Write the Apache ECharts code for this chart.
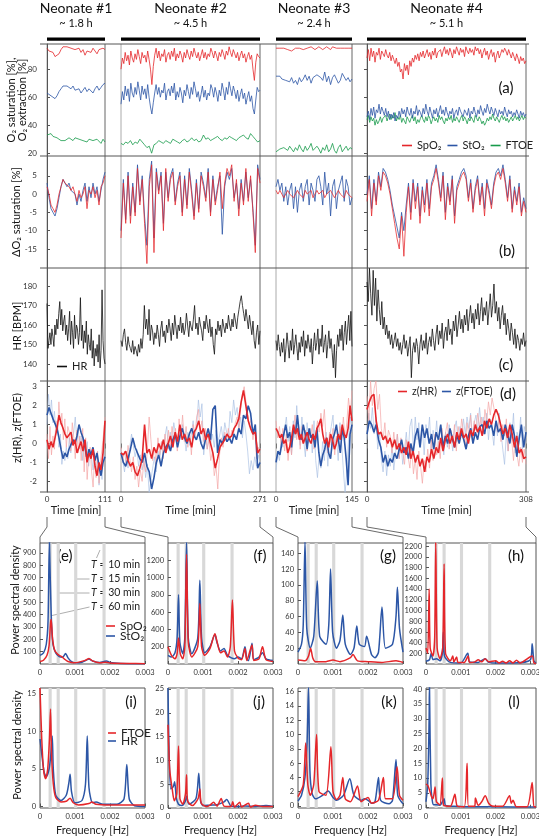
<!DOCTYPE html>
<html><head><meta charset="utf-8">
<script src="https://cdn.jsdelivr.net/npm/echarts@6/dist/echarts.min.js"></script>
<style>html,body{margin:0;padding:0;background:#fff}#c{width:539px;height:838px}</style>
</head><body><div id="c"></div>
<script>
// ---------------- DATA ----------------
const neonates = ['Neonate #1','Neonate #2','Neonate #3','Neonate #4'];
const durLabels = ['~ 1.8 h','~ 4.5 h','~ 2.4 h','~ 5.1 h'];
const durations = [111, 271, 145, 308];

// (a) O2 saturation / extraction [%]
const spo2 = [
 [95,93,94,92,89,88,91,94,96,97,96,96,95,95,94,93,95,92,94,90,93,94,92,95,93,91,94,93,95,94],
 [80,88,84,92,86,90,83,93,88,85,91,87,94,89,84,92,88,90,85,93,87,80,69,82,90,95,88,93,86,91,89,94,85,90,92,87,93,89,95,86,91,88,93,90,85,92,88,94,90,87,93,89,95,91,88,92,86,90,94,88,92,87,91,89,95,92,88,93,90,86,92,89,94,91,87,93,90,96,92,89,94,91,88,92,86,90,93,88,91,85,89,92,87,90,80,72,85,91,89,88],
 [95,94,95,94,95,95,94,95,93,94,95,94,95,96,94,95,95,94,96,95,94,95,96,95,94,95,96,95,94,96,95,95,94,95,96,95,94,95,94,95],
 [88,94,86,95,89,93,85,92,90,95,87,93,91,89,94,90,88,92,86,90,87,84,88,82,85,78,80,73,84,79,83,76,86,82,88,85,90,87,91,86,92,89,93,88,91,94,89,92,87,93,90,95,88,92,91,94,89,93,96,91,94,90,95,92,88,94,91,96,93,90,95,92,94,89,96,93,91,95,92,94,90,96,93,95,91,94,88,92,95,90,93,87,91,94,89,92,85,90,93,88,91,94,92,95,93,90,94,91,88,92,89,86,91,88,84,89,86,88,84,86]
];
const sto2 = [
 [63,62,61,60,59,61,64,66,68,69,68,67,66,68,65,64,66,63,65,67,64,66,65,63,66,68,65,67,69,70],
 [55,64,58,68,61,66,57,70,63,60,67,62,71,65,58,68,62,66,59,69,60,53,48,56,63,69,62,67,60,65,63,70,58,64,66,61,68,63,70,58,64,60,67,63,56,65,61,69,64,59,67,62,71,66,60,64,57,62,68,60,65,58,63,61,69,66,60,67,63,57,65,61,70,65,58,67,62,71,66,61,68,64,59,65,57,62,66,59,63,55,60,64,57,61,52,48,58,67,64,65],
 [75,74,75,73,74,72,73,71,74,70,72,69,74,71,73,76,72,75,70,74,73,76,77,74,72,78,71,75,69,74,76,73,70,72,77,78,72,74,71,73],
 [46,50,44,52,47,53,45,51,49,55,48,53,50,47,52,46,50,44,48,45,49,43,47,45,50,46,52,48,51,46,53,49,47,52,45,50,48,54,47,51,49,46,52,48,55,50,47,53,49,45,51,48,52,46,50,54,48,51,47,53,49,46,50,48,52,45,49,51,47,53,50,48,46,51,49,47,52,45,50,48,53,49,46,51,48,54,50,47,52,49,55,51,48,53,50,47,52,49,46,51,48,50,47,53,49,46,51,48,50,46,49,47,51,48,45,50,47,49,46,48]
];
const ftoe = [
 [33,32,34,32,33,31,30,29,30,29,30,31,30,29,31,32,30,31,29,30,28,30,31,29,28,30,29,27,30,28],
 [27,26,28,27,29,26,28,27,30,28,26,24,25,20,26,27,29,28,27,29,28,27,30,29,28,27,29,30,28,29,31,29,30,28,29,33,30,31,29,30,31,32,30,29,31,30,32,31,30,29,31,32,33,31,30,34,32,30,28,29],
 [21,22,23,22,24,23,22,25,23,21,24,22,26,23,21,25,22,24,27,22,21,25,23,20,24,22,26,21,23,27,22,20,24,26,21,23,25,22,24,23],
 [44,47,42,46,43,45,40,44,41,43,46,42,45,44,47,43,46,48,44,47,45,49,43,46,44,47,42,45,43,41,46,44,42,45,47,43,46,41,44,42,45,47,44,42,46,43,47,45,41,44,46,43,45,42,47,44,46,43,41,45,43,46,44,47,42,45,43,46,44,42,45,47,43,46,44,41,45,43,46,44,42,47,45,43,46,44,41,43,40,42,45,43,46,44,48,45,43,46,44,42,45,47,44,46,43,45,42,44,46,43,45,47,44,46,43,45,47,44,46,45]
];
// (b) delta O2 saturation [%]
const dSpo2 = [
 [2,0,-3,-4,-5,-3,0,2,4,3,3,2,1,2,0,-2,1,-1,0,2,-4,1,0,2,-1,1,-3,2,3,5],
 [-12,3,-8,5,-8,2,-6,7,-3,4,-8,-19,2,8,-16,6,0,5,-10,7,-2,4,6,-3,2,5,-6,4,-4,6,0,-7,3,-5,5,2,-2,6,-6,4,-3,1,6,-4,3,7,5,8,-2,4,-6,3,-3,7,-2,5,-5,-16,7,3],
 [1,0,1,0,-1,0,1,0,0,-1,0,1,0,0,-1,1,0,0,1,-1,0,1,0,0,1,-1,0,0,1,0,-1,0,1,0,0,-1,1,0,0,-1],
 [-2,4,-6,3,-3,5,1,6,5,3,0,-4,-8,-12,-15,-6,-17,-5,2,-7,3,-4,2,-8,1,-5,3,-6,2,4,7,3,-2,5,-7,2,-3,4,-8,1,3,5,6,4,-2,3,-5,1,4,-3,2,-6,3,0,-4,2,5,6,4,7,3,-2,4,-5,1,-3,2,-6,-2,-5]
];
const dSto2 = [
 [3,-1,-4,-5,-6,-4,-1,2,4,4,2,3,1,1,0,-3,0,-2,1,3,-2,2,-1,3,0,2,-2,1,4,6],
 [-10,4,-7,6,-6,3,-5,8,-2,5,-6,-14,4,9,-12,7,1,6,-8,6,-1,5,7,-2,3,6,-5,5,-3,7,1,-6,4,-4,6,3,-1,7,-5,5,-2,2,5,-11,2,6,4,7,-1,3,-4,4,-2,6,-1,4,-4,-14,8,4],
 [2,4,1,3,-2,2,-3,1,3,-4,2,-5,1,3,-2,2,4,-3,3,1,-2,4,5,2,-3,6,0,3,-6,2,4,-4,1,3,5,-2,4,2,-3,-1],
 [0,5,-4,4,-2,6,2,7,6,4,1,-3,-6,-9,-12,-5,-10,-3,3,-5,4,-2,3,-6,2,-3,4,-4,3,5,8,4,-1,6,-5,3,-2,5,-6,2,4,6,7,5,-1,4,-4,2,5,-2,3,-4,4,1,-3,3,6,7,5,8,4,-1,5,-4,2,-2,3,-5,-1,-4]
];
// (c) heart rate [BPM]
const hr = [
 [171,148,152,156,150,158,154,149,160,155,163,158,166,172,160,168,157,162,165,155,160,152,158,167,150,162,156,148,165,153,160,158,150,156,174,152,160,148,157,151,162,145,155,150,147,158,143,152,139,148,144,150,141,155,138,147,178,152,143,140],
 [152,149,155,158,151,147,154,150,148,146,152,145,149,147,144,150,146,153,148,155,170,158,163,155,168,152,160,157,150,156,153,160,155,149,158,162,154,157,151,160,156,163,158,152,161,155,165,159,153,160,157,164,156,161,155,158,166,160,154,162,159,157,163,170,158,161,155,164,160,157,152,162,158,165,160,156,163,154,159,150,145,158,155,162,157,160,154,163,159,156,161,158,165,160,157,163,159,166,162,158,164,168,172,175,170,166,162,168,163,158,165,160,155,162,152,148,156,160,150,157],
 [152,147,155,149,144,151,146,153,141,148,156,150,143,152,147,158,145,150,155,148,142,151,146,154,149,157,144,152,148,155,150,146,153,140,149,156,147,151,158,145,153,149,160,146,151,155,143,150,157,148,153,146,138,150,133,147,155,149,158,152,160,147,156,162,150,158,165,152,167,149],
 [182,172,189,176,165,188,170,184,162,178,168,160,172,158,164,155,160,153,157,150,155,148,152,156,149,153,147,151,145,150,155,148,152,144,149,154,133,147,151,146,153,149,140,150,155,147,152,148,156,145,151,154,149,158,152,147,155,160,150,157,153,161,148,156,159,152,163,155,158,150,162,157,165,154,160,167,158,163,156,165,160,168,157,164,170,161,166,158,168,163,171,160,167,174,162,169,165,172,160,168,176,164,170,181,166,172,162,169,158,165,170,160,166,155,163,158,152,161,156,150,158,148,155,152,147,153,150,156,149,152]
];
// (d) z-scores: smoothed and raw
const zHr = [
 [0.2,-0.3,0.1,-0.2,0.3,0.8,1.5,1.1,0.8,0.5,0.3,0.2,0.6,-0.1,0.2,-0.5,-0.2,0.1,-0.4,0.2,-1.0,-0.5,-0.8,-0.3,-1.2,-1.7,-1.0,-1.4,-0.5,1.2],
 [-0.5,-0.6,-0.4,-0.9,-1.2,-1.0,-1.5,-1.7,-1.3,-0.8,1.0,-0.5,-0.3,-0.8,-0.2,-0.5,0.0,-0.3,0.2,-0.5,0.0,0.4,-0.2,0.6,0.1,1.0,0.2,0.5,0.1,0.3,-0.2,0.6,0.8,1.2,0.5,0.8,0.2,0.5,0.0,-0.5,-1.3,-0.8,-0.2,0.0,0.2,0.5,0.3,0.4,0.8,1.0,1.3,2.2,2.8,2.0,1.2,0.8,0.5,0.6,-0.5,-0.3],
 [0.8,0.6,0.3,0.5,0.0,0.2,-0.5,-0.2,0.3,1.0,0.5,0.8,0.2,0.5,0.0,0.3,0.6,0.2,0.0,0.5,0.2,0.8,1.0,1.3,0.5,0.0,0.3,-0.2,0.5,0.2,-0.3,0.0,0.5,0.2,1.0,0.5,0.3,0.8,2.0,1.2],
 [1.8,2.2,2.5,2.6,1.2,0.5,0.6,0.2,0.4,0.0,0.3,-0.2,0.2,-0.3,0.0,-0.5,-0.2,-0.6,0.1,-0.8,-0.4,-1.0,-0.6,-1.2,-0.8,-1.5,-0.7,-1.0,-0.3,-0.8,-0.2,-0.5,0.3,-0.4,0.2,0.5,0.0,0.4,-0.2,0.6,0.2,0.8,0.3,0.5,0.0,0.7,0.4,1.0,0.6,0.9,0.4,1.2,0.8,1.3,1.0,1.5,1.8,1.5,1.0,0.5,0.8,0.3,1.0,0.5,-0.2,0.4,-0.5,-0.3,-0.8,-0.7]
];
const zFtoe = [
 [1.5,1.9,1.6,1.3,1.2,0.8,0.3,-0.3,-0.8,-0.5,-0.7,-0.3,-0.4,0.2,0.0,0.4,1.0,0.6,0.3,-0.2,-0.8,-0.3,-0.6,-0.2,-0.9,-0.5,-1.2,-1.7,-1.0,-0.7],
 [-0.5,-1.0,-1.2,-0.8,-0.3,0.3,-0.2,-0.5,-0.8,-1.0,-0.5,-1.2,-1.5,-2.4,-1.8,-1.0,-0.6,-1.2,-0.5,-0.2,0.0,-0.4,0.2,0.5,-0.2,0.4,0.8,0.3,0.0,0.5,0.8,0.4,0.2,0.6,0.0,-0.3,0.3,0.8,0.2,1.8,2.0,-0.5,0.2,0.0,0.4,0.1,0.3,0.0,0.5,0.2,0.8,0.5,1.5,1.3,2.0,1.6,0.5,1.0,-1.3,-1.0],
 [-1.0,-0.4,-0.6,0.0,0.5,1.0,0.3,0.6,-0.2,0.8,0.5,1.5,0.4,0.2,1.0,0.5,-0.3,0.8,0.3,0.5,-0.2,0.8,-0.5,-1.2,-0.6,-0.3,0.3,-0.5,-0.8,0.2,0.5,1.0,0.2,-0.5,0.8,0.3,-0.8,-2.2,0.5,1.0],
 [0.5,1.2,1.0,0.6,1.0,0.2,-0.2,-1.0,-0.6,-1.2,-0.8,-1.0,-0.5,-0.8,-0.3,0.2,-0.5,-0.2,-0.8,0.0,-0.5,0.4,0.8,-0.2,1.0,0.3,0.8,0.0,0.5,-0.3,0.6,0.2,1.0,-0.2,0.4,0.0,0.8,0.3,-0.2,0.5,0.0,0.6,0.2,-0.3,0.4,0.8,0.0,0.6,0.2,0.9,1.0,0.5,1.2,0.8,1.0,0.4,1.2,0.6,0.8,0.2,1.0,0.5,0.0,1.0,0.4,-0.7,0.2,1.0,-0.2,0.6]
];
const zHrRaw = [
 [0.5,-0.8,0.9,-0.6,0.4,-0.3,1.2,0.6,2.2,1.0,1.6,0.2,1.3,-0.2,0.9,0.6,-0.4,1.1,0.3,-0.8,0.7,-0.5,0.4,-0.9,0.8,-1.5,0.3,-1.9,-0.6,-0.2,-1.5,-2.3,-0.7,-1.8,-0.4,-2.1,-0.9,-0.3,0.5,1.4],
 [-0.2,-0.9,-0.4,-1.1,-0.1,-0.8,-1.5,-0.7,-1.9,-1.2,-2.3,-1.4,-2.0,-0.9,-1.5,-0.3,1.4,0.2,-0.9,-0.2,-1.1,0.3,-0.6,0.1,-0.8,0.5,-0.3,0.7,-0.2,0.9,0.2,0.8,-0.4,1.3,0.3,1.5,0.1,0.9,-0.2,0.6,-0.6,1.0,0.4,1.4,1.8,0.6,1.2,0.1,0.8,-0.3,0.2,-0.9,-0.4,-1.7,-1.2,-2.4,-0.6,0.3,-0.2,0.6,0.1,0.8,0.2,0.7,0.5,1.1,1.4,0.7,1.8,2.6,3.0,2.2,1.6,0.9,1.3,0.2,0.9,-0.8,-0.2,-0.6],
 [1.2,0.3,0.9,-0.1,0.8,-0.4,0.5,-0.9,0.2,-0.6,0.6,1.5,0.2,1.1,-0.3,0.9,0.1,0.7,-0.4,0.6,0.3,1.0,-0.3,0.4,1.2,0.6,1.6,0.9,1.8,0.2,-0.5,0.6,-0.1,0.8,-0.6,0.4,0.1,0.9,0.3,1.4,0.2,1.1,2.4,1.5,2.8],
 [2.5,1.2,3.3,2.0,2.9,3.3,1.8,2.6,0.8,0.2,1.1,-0.2,0.7,0.4,-0.5,0.6,-0.3,0.5,-0.8,0.3,-0.4,-1.1,0.2,-0.7,-1.3,-0.2,-1.6,-0.8,-1.9,-0.4,-1.2,-2.1,-0.9,-1.5,-0.3,-1.3,0.2,-0.9,0.5,-0.6,0.1,-0.8,0.8,-0.2,0.6,1.1,-0.3,0.7,0.1,1.0,-0.4,0.9,0.3,1.3,0.6,-0.2,1.1,0.4,1.5,0.2,1.2,0.7,1.6,0.9,1.4,0.5,1.8,1.2,2.2,1.5,2.4,1.9,1.3,0.6,1.4,0.1,1.0,0.4,1.3,-0.4,0.8,0.2,-0.9,0.3,-0.6,-1.2,-0.2,-1.0,-0.3,-1.1]
];
const zFtoeRaw = [
 [1.0,2.6,1.5,2.3,1.1,1.7,0.6,1.2,-0.2,0.5,-1.1,-0.4,-0.9,-0.2,-0.8,0.3,-0.5,0.4,0.6,1.4,0.2,0.8,-0.3,0.4,-0.9,0.2,-0.7,0.1,-1.2,-0.3,-0.8,-1.4,-0.5,-1.6,-0.9,-2.2,-1.1,-1.9,-0.4,-0.9],
 [-0.3,-0.9,-1.5,-0.6,-1.3,-0.2,0.5,-0.1,-0.7,-0.3,-1.2,-0.6,-1.4,-0.8,-1.8,-1.1,-2.6,-1.9,-1.3,-0.7,-1.5,-0.4,-0.9,0.1,-0.5,0.4,0.9,-0.3,0.6,0.1,1.1,0.5,-0.2,0.8,0.2,1.0,0.4,-0.4,0.6,-0.1,0.5,1.2,0.3,0.9,2.3,1.4,2.1,-0.6,0.4,-0.3,0.6,0.0,0.5,-0.2,0.7,0.1,0.4,0.9,0.2,1.1,0.6,0.3,1.7,1.1,2.3,1.5,1.9,0.8,1.4,0.3,1.2,0.5,-0.4,-1.6,-0.9,-1.4,-0.7,-1.2,-0.6,-1.1],
 [-1.4,-0.5,-0.9,0.3,-0.2,0.8,1.4,0.1,0.9,-0.6,1.2,0.3,2.0,0.6,-0.1,1.4,0.2,-0.7,1.1,0.0,0.8,-0.5,1.2,-0.9,-1.8,-0.6,-1.3,0.1,-0.9,0.6,-1.2,0.3,0.9,1.5,-0.2,0.4,-0.9,1.1,0.0,-1.4,-2.6,-1.5,0.2,1.4,0.6],
 [0.2,1.6,0.8,1.9,0.5,1.4,-0.3,0.6,-0.8,-1.5,-0.4,-1.7,-0.6,-1.2,-0.2,-1.4,-0.5,0.5,-0.8,0.1,-1.1,-0.3,0.6,-0.6,0.9,1.3,-0.4,1.4,0.2,1.1,-0.2,0.8,-0.6,1.0,0.3,1.4,-0.5,0.7,0.1,1.2,-0.3,0.9,0.4,-0.6,0.6,-0.2,1.0,0.4,-0.4,0.8,1.2,0.1,0.9,0.4,1.3,0.5,1.4,0.8,1.6,0.3,1.1,1.5,0.7,1.9,0.9,1.4,0.5,1.6,0.2,1.3,0.7,-0.1,1.2,0.4,1.6,0.6,-0.3,-1.1,0.5,-0.4,1.1,0.3,1.6,-0.5,0.6,0.2,1.4,-0.3,0.9,0.4]
];
// tick labels of the time-series rows
const ticksA = [20,40,60,80];
const ticksB = [-15,-10,-5,0,5];
const ticksC = [140,150,160,170,180];
const ticksD = [-2,-1,0,1,2,3];

// Power spectral densities: [frequency Hz, PSD]
const psdE_spo2 = [[0,20],[0.0001,30],[0.0002,70],[0.00026,150],[0.0003,330],[0.00032,360],[0.00036,200],[0.00042,110],[0.0005,80],[0.00055,70],[0.00062,60],[0.0007,40],[0.0008,20],[0.001,10],[0.0013,30],[0.0014,45],[0.0015,25],[0.0017,10],[0.0019,15],[0.002,8],[0.0025,4],[0.003,3]];
const psdE_sto2 = [[0,70],[0.0001,90],[0.00018,160],[0.00023,350],[0.00027,990],[0.00029,990],[0.00032,400],[0.00037,160],[0.00045,90],[0.00055,60],[0.00065,55],[0.00073,85],[0.0008,50],[0.0009,20],[0.001,10],[0.0012,15],[0.00135,35],[0.0014,40],[0.0015,25],[0.0017,12],[0.00185,22],[0.0019,25],[0.002,12],[0.0023,5],[0.003,3]];
const psdF_spo2 = [[0,200],[0.0001,100],[0.0002,60],[0.00026,120],[0.0003,300],[0.00035,120],[0.00042,60],[0.00048,200],[0.00053,1270],[0.00058,250],[0.00068,80],[0.00085,200],[0.00091,700],[0.00096,200],[0.00105,100],[0.0012,180],[0.00134,350],[0.0014,260],[0.0015,130],[0.0016,150],[0.0017,80],[0.00178,200],[0.00184,740],[0.0019,150],[0.002,70],[0.0021,50],[0.0022,180],[0.00225,40],[0.0024,220],[0.00245,40],[0.0026,60],[0.0027,200],[0.0028,50],[0.003,30]];
const psdF_sto2 = [[0,100],[0.0001,80],[0.0002,130],[0.00026,300],[0.0003,800],[0.00034,250],[0.00042,120],[0.00048,300],[0.00053,1410],[0.00058,300],[0.00068,120],[0.00085,300],[0.00091,970],[0.00096,300],[0.00105,130],[0.0012,200],[0.00134,340],[0.0014,250],[0.0015,150],[0.0016,180],[0.0017,100],[0.0019,60],[0.002,80],[0.0021,60],[0.0022,200],[0.00225,60],[0.0023,40],[0.0024,240],[0.00245,50],[0.0026,80],[0.0027,130],[0.0028,60],[0.003,40]];
const psdG_spo2 = [[0,5],[0.0002,4],[0.0003,10],[0.00036,20],[0.00042,8],[0.0005,3],[0.0008,3],[0.001,5],[0.0012,3],[0.0015,8],[0.00157,12],[0.0017,4],[0.002,3],[0.0024,2],[0.0028,4],[0.003,2]];
const psdG_sto2 = [[0,15],[0.0001,25],[0.00015,50],[0.0002,155],[0.00025,45],[0.00035,20],[0.00045,35],[0.00055,105],[0.00062,35],[0.0008,25],[0.00088,50],[0.00093,120],[0.00099,40],[0.0011,20],[0.0012,30],[0.00128,62],[0.00135,25],[0.0015,12],[0.0016,20],[0.00168,48],[0.00175,25],[0.0019,22],[0.00196,35],[0.0021,12],[0.0022,8],[0.0023,15],[0.0024,72],[0.0025,20],[0.0027,25],[0.0028,60],[0.00284,97],[0.0029,45],[0.003,15]];
const psdH_spo2 = [[0,300],[0.00005,200],[0.00009,1400],[0.00012,300],[0.0002,150],[0.00025,500],[0.00028,2270],[0.00032,300],[0.0004,100],[0.00048,300],[0.00052,1870],[0.00056,200],[0.0007,60],[0.00077,150],[0.0008,40],[0.00088,130],[0.00092,30],[0.0011,30],[0.00121,150],[0.00125,30],[0.0014,40],[0.0015,80],[0.0016,40],[0.0017,100],[0.0018,40],[0.002,60],[0.0021,20],[0.0022,50],[0.0023,20],[0.0024,60],[0.0025,20],[0.0026,70],[0.0027,20],[0.00305,150],[0.0031,20],[0.00316,10]];
const psdH_sto2 = [[0,50],[0.0001,80],[0.00015,200],[0.0002,80],[0.0003,100],[0.0004,60],[0.00047,200],[0.0005,600],[0.00053,150],[0.0007,30],[0.001,20],[0.0012,200],[0.00125,40],[0.0015,30],[0.0017,100],[0.0018,30],[0.002,20],[0.0025,20],[0.003,80],[0.00305,380],[0.0031,60],[0.00316,20]];
const psdI_ftoe = [[0,15.8],[0.00005,9],[0.0001,5],[0.00016,3.7],[0.00022,5],[0.00027,9],[0.0003,13],[0.00033,7],[0.00038,3],[0.00045,1.2],[0.0006,0.6],[0.00075,0.7],[0.00086,1.1],[0.00095,0.5],[0.0011,0.2],[0.0014,0.4],[0.00148,0.6],[0.0016,0.3],[0.002,0.2],[0.003,0.2]];
const psdI_hr = [[0,9],[0.00005,7],[0.00012,4.5],[0.00018,4],[0.00026,5],[0.00031,7],[0.00035,9.4],[0.00038,5],[0.00045,1.5],[0.0006,0.8],[0.00075,1.5],[0.00082,3],[0.00086,4.3],[0.0009,2],[0.001,0.5],[0.0012,0.8],[0.0013,3],[0.00135,9.4],[0.0014,2.5],[0.0015,0.5],[0.0016,0.6],[0.0018,0.3],[0.0022,0.3],[0.0024,1],[0.00248,5.6],[0.00255,1],[0.0027,0.1],[0.003,0]];
const psdJ_ftoe = [[0,17.5],[0.00005,8],[0.00012,4],[0.00018,1.5],[0.00025,3],[0.0003,13],[0.00034,2],[0.00042,0.8],[0.0005,3],[0.00053,7],[0.00056,1.5],[0.0007,0.5],[0.00086,2],[0.00091,4],[0.00095,1],[0.0011,0.3],[0.0012,0.6],[0.0013,1.2],[0.0014,0.4],[0.00152,2],[0.0016,0.4],[0.0018,0.3],[0.00185,1.3],[0.0019,0.2],[0.00205,1.2],[0.0021,0.2],[0.0023,1],[0.00235,0.2],[0.0025,0.6],[0.0027,0.3],[0.003,0.3]];
const psdJ_hr = [[0,25.2],[0.00003,12],[0.00008,4],[0.00015,4.5],[0.00019,5.5],[0.00024,2],[0.0003,0.8],[0.0004,0.5],[0.0005,1.5],[0.00053,2.5],[0.0006,0.8],[0.0008,2],[0.00088,7.3],[0.00093,1.5],[0.001,0.5],[0.0012,0.6],[0.0014,0.7],[0.0016,1.3],[0.00168,1.8],[0.0018,0.4],[0.002,0.3],[0.0022,0.4],[0.0025,0.3],[0.0028,0.5],[0.003,0.3]];
const psdK_ftoe = [[0,1.3],[0.00015,3],[0.00022,8.8],[0.00028,3],[0.00035,1.5],[0.00045,3],[0.00053,10],[0.0006,2],[0.0008,1.5],[0.00094,8.3],[0.001,2],[0.0011,0.9],[0.0012,1.5],[0.00128,4],[0.00135,1],[0.0015,0.6],[0.0017,2.8],[0.0018,0.6],[0.002,1.2],[0.0021,0.4],[0.0023,0.8],[0.00244,4],[0.0025,1],[0.0027,1],[0.00283,5.5],[0.0029,1.5],[0.003,0.8]];
const psdK_hr = [[0,0.7],[0.0001,1.5],[0.0002,4],[0.00026,9],[0.0003,16.6],[0.00034,5],[0.0004,1.8],[0.0005,1],[0.0007,1.5],[0.00086,2.1],[0.001,1.2],[0.0011,0.8],[0.0013,1.5],[0.00148,3.8],[0.0016,1.5],[0.0018,0.8],[0.0019,1],[0.002,0.8],[0.0021,0.4],[0.0022,0.6],[0.0023,4],[0.00236,0.8],[0.0026,0.3],[0.0027,0.8],[0.0028,6.5],[0.00285,1.5],[0.003,0.3]];
const psdL_ftoe = [[0,8],[0.00005,7.5],[0.0001,6],[0.00015,4],[0.0002,3],[0.00026,7],[0.0003,2],[0.0004,1],[0.00047,10],[0.0005,1],[0.0007,0.5],[0.00083,4.5],[0.0009,0.5],[0.0011,0.3],[0.00118,15],[0.00122,0.5],[0.0014,0.5],[0.00142,3.3],[0.0015,0.8],[0.0016,2],[0.0017,4],[0.0018,1.5],[0.0019,0.6],[0.0022,0.5],[0.0024,4],[0.00245,1.5],[0.0025,2.5],[0.0026,0.3],[0.0029,0.3],[0.00305,8.5],[0.0031,0.3],[0.00316,0.3]];
const psdL_hr = [[0,2],[0.00005,8],[0.00009,30],[0.0001,41],[0.00012,41],[0.00014,8],[0.00018,2.5],[0.00022,1],[0.0003,1],[0.0004,0.8],[0.00052,3],[0.00056,0.8],[0.0008,0.5],[0.0015,0.3],[0.002,0.3],[0.00316,0.2]];
// periods T = 60, 30, 15, 10 min marked as grey bands (Hz)
const bandFreqs = [0.00029, 0.00052, 0.00102, 0.00183];
const bandLabels = ['T = 10 min','T = 15 min','T = 30 min','T = 60 min'];
const psdYTicks = [
 [100,200,300,400,500,600,700,800,900],
 [200,400,600,800,1000,1200],
 [20,40,60,80,100,120,140],
 [200,400,600,800,1000,1200,1400,1600,1800,2000,2200],
 [0,5,10,15],
 [0,5,10,15,20,25],
 [0,2,4,6,8,10,12,14,16],
 [0,5,10,15,20,25,30,35,40]
];
const freqTicks = [0, 0.001, 0.002, 0.003];

// ---------------- LAYOUT ----------------
const FONT = 'Lato, "Open Sans", sans-serif';
const RED = '#e5262a', BLUE = '#2c56a6', GREEN = '#179a4a';
const COLS = [[47,105],[121,260],[276,352],[367,526]];
const ROWS = [[44,156],[156,268],[268,381],[381,492]];
const FL = 40, FR = 529;
const ROW_RANGE = [[18,98],[-20.2,10.4],[131.3,189.2],[-2.56,3.3]];
const ROW_TICKS = [ticksA, ticksB, ticksC, ticksD];
const PL = [40,168,298,426], PW = [105,105,105,110], PXMAX = [0.003,0.003,0.003,0.00316];
const PT = [543,688], PH = [121,120];
const PSD_RANGE = [[0,980],[0,1400],[0,153],[0,2260],[-0.2,15.8],[0,25.2],[-0.28,16.5],[-0.1,40.4]];

const grids = [], xAxes = [], yAxes = [], series = [];
for (let r = 0; r < 4; r++) for (let c = 0; c < 4; c++) {
  const gi = grids.length;
  grids.push({left: COLS[c][0], top: ROWS[r][0], width: COLS[c][1]-COLS[c][0], height: ROWS[r][1]-ROWS[r][0], show:false, containLabel:false, outerBoundsMode:'none'});
  xAxes.push({type:'value', gridIndex:gi, min:0, max:durations[c], show: r===3,
    axisLine:{show:false}, splitLine:{show:false},
    axisTick:{show:true, customValues:[0,durations[c]], length:5, lineStyle:{color:'#777'}},
    axisLabel:{customValues:[0,durations[c]], fontSize:8, margin:3, color:'#333', fontFamily:FONT},
    name:'Time [min]', nameLocation:'middle', nameGap:13, nameTextStyle:{fontSize:11, color:'#222', fontFamily:FONT}});
  const y = {type:'value', gridIndex:gi, min:ROW_RANGE[r][0], max:ROW_RANGE[r][1], splitLine:{show:false}};
  if (c === 0) Object.assign(y, {position:'left', offset: COLS[0][0]-FL,
    axisLine:{show:true, lineStyle:{color:'#555', width:1}},
    axisTick:{show:true, inside:true, length:3, customValues:ROW_TICKS[r], lineStyle:{color:'#555'}},
    axisLabel:{customValues:ROW_TICKS[r], fontSize:8, margin:3, color:'#333', fontFamily:FONT}});
  else if (c === 3) Object.assign(y, {position:'right', offset: FR-COLS[3][1],
    axisLine:{show:true, lineStyle:{color:'#555', width:1}},
    axisTick:{show:true, inside:true, length:3, customValues:ROW_TICKS[r], lineStyle:{color:'#555'}},
    axisLabel:{show:false}});
  else y.show = false;
  yAxes.push(y);
}
for (let p = 0; p < 2; p++) for (let c = 0; c < 4; c++) {
  const gi = grids.length, k = p*4+c;
  grids.push({left:PL[c], top:PT[p], width:PW[c], height:PH[p], show:true, borderColor:'#555', borderWidth:1, backgroundColor:'transparent', containLabel:false, outerBoundsMode:'none'});
  xAxes.push({type:'value', gridIndex:gi, min:0, max:PXMAX[c], axisLine:{show:false}, splitLine:{show:false},
    axisTick:{show:true, inside:true, length:3, customValues:freqTicks, lineStyle:{color:'#555'}},
    axisLabel:{customValues:freqTicks, fontSize:7.5, margin:5, color:'#333', fontFamily:FONT, formatter:v=> v===0?'0':v.toFixed(3)},
    name: p===1 ? 'Frequency [Hz]' : '', nameLocation:'middle', nameGap:17, nameTextStyle:{fontSize:11, color:'#222', fontFamily:FONT}});
  yAxes.push({type:'value', gridIndex:gi, min:PSD_RANGE[k][0], max:PSD_RANGE[k][1], axisLine:{show:false}, splitLine:{show:false},
    axisTick:{show:true, inside:true, length:3, customValues:psdYTicks[k], lineStyle:{color:'#555'}},
    axisLabel:{customValues:psdYTicks[k], fontSize:7.5, margin:4, color:'#333', fontFamily:FONT, formatter:v=>String(v)}});
}

function ts(name, gi, dur, arr, color, width, opacity) {
  series.push({type:'line', name, xAxisIndex:gi, yAxisIndex:gi,
    data: arr.map((v,i)=>[i*dur/(arr.length-1), v]),
    showSymbol:false, symbol:'none', silent:true, animation:false,
    lineStyle:{color, width, opacity: opacity==null?1:opacity}, itemStyle:{color}});
}
for (let c = 0; c < 4; c++) {
  const d = durations[c];
  ts('FTOE', c, d, ftoe[c], GREEN, 0.8);
  ts('StO₂', c, d, sto2[c], BLUE, 0.8);
  ts('SpO₂', c, d, spo2[c], RED, 0.8);
  ts('StO₂', 4+c, d, dSto2[c], BLUE, 0.9, 0.9);
  ts('SpO₂', 4+c, d, dSpo2[c], RED, 0.9, 0.85);
  ts('HR', 8+c, d, hr[c], '#111', 0.8);
  ts('rawF', 12+c, d, zFtoeRaw[c], '#a9bfe3', 0.9, 0.75);
  ts('rawH', 12+c, d, zHrRaw[c], '#f3a3a3', 0.9, 0.75);
  ts('z(FTOE)', 12+c, d, zFtoe[c], BLUE, 1.6);
  ts('z(HR)', 12+c, d, zHr[c], RED, 1.6);
}
function psd(name, gi, arr, color) {
  series.push({type:'line', name, xAxisIndex:gi, yAxisIndex:gi, data:arr, showSymbol:false, symbol:'none',
    smooth:0.25, silent:true, animation:false, z:3, lineStyle:{color, width:1.5}, itemStyle:{color}});
}
const psdPairs = [
  [psdE_spo2, psdE_sto2], [psdF_spo2, psdF_sto2], [psdG_spo2, psdG_sto2], [psdH_spo2, psdH_sto2],
  [psdI_ftoe, psdI_hr], [psdJ_ftoe, psdJ_hr], [psdK_ftoe, psdK_hr], [psdL_ftoe, psdL_hr]
];
const BAND_HALF = 0.000045;
psdPairs.forEach((pair, k) => {
  const gi = 16 + k;
  series.push({type:'custom', xAxisIndex:gi, yAxisIndex:gi, z:1, silent:true, animation:false,
    data: bandFreqs.map(f => [f, 0]),
    renderItem:(params, api) => {
      const f = api.value(0);
      const a = api.coord([f-BAND_HALF, 0]), b = api.coord([f+BAND_HALF, 0]);
      const cs = params.coordSys;
      return {type:'rect', shape:{x:a[0], y:cs.y, width:b[0]-a[0], height:cs.height}, style:{fill:'#d8d8d8'}};
    }});
  if (k < 4) { psd('StO₂', gi, pair[1], BLUE); psd('SpO₂', gi, pair[0], RED); }
  else { psd('HR_psd', gi, pair[1], BLUE); psd('FTOE_psd', gi, pair[0], RED); }
});

// ---------------- GRAPHIC (frame, titles, annotations) ----------------
const gfx = [];
const txt = (x, y, text, size, extra) => gfx.push({type:'text', x, y, silent:true,
  style:Object.assign({text, fontSize:size, fontFamily:FONT, fill:'#111', textAlign:'center', textVerticalAlign:'middle'}, extra||{})});
const line = (x1, y1, x2, y2, color, w) => gfx.push({type:'line', silent:true, shape:{x1,y1,x2,y2}, style:{stroke:color, lineWidth:w||1}});
const poly = (pts, color) => gfx.push({type:'polyline', silent:true, shape:{points:pts}, style:{stroke:color, lineWidth:0.8, fill:null}});
const vtxt = (x, y, text) => gfx.push({type:'text', x, y, rotation:Math.PI/2, silent:true,
  style:{text, fontSize:11, fontFamily:FONT, fill:'#111', textAlign:'center', textVerticalAlign:'middle'}});

COLS.forEach((cx, c) => {
  const mid = (cx[0]+cx[1])/2;
  txt(mid, 8, neonates[c], 14);
  txt(mid, 23, durLabels[c], 11);
  gfx.push({type:'rect', silent:true, shape:{x:cx[0], y:37.5, width:cx[1]-cx[0], height:3.2}, style:{fill:'#000'}});
  line(cx[0], 44, cx[0], 492, '#aaa', 1);
  line(cx[1], 44, cx[1], 492, '#666', 1);
  poly([[cx[0],517],[cx[0],527],[PL[c],537],[PL[c],543]], '#444');
  poly([[cx[1],517],[cx[1],527],[PL[c]+PW[c],537],[PL[c]+PW[c],543]], '#444');
});
[44,156,268,381,492].forEach(y => line(FL, y, FR, y, '#555', 1));
// panel letters
[['(a)',506,88],['(b)',507,251],['(c)',506,365],['(d)',508,394],['(e)',65,556],['(f)',260,556],['(g)',388,556],['(h)',516,556],
 ['(i)',131,702],['(j)',259,702],['(k)',389,702],['(l)',514,702]].forEach(t => txt(t[1], t[2], t[0], 15));
// y-axis titles
vtxt(11, 100, 'O₂ saturation [%],');
vtxt(22, 100, 'O₂ extraction [%]');
vtxt(16, 212, 'ΔO₂ saturation [%]');
vtxt(17, 326, 'HR [BPM]');
vtxt(17, 428, 'z(HR), z(FTOE)');
vtxt(15, 600, 'Power spectral density');
vtxt(17, 745, 'Power spectral density');
// T annotations in (e)
const tPos = [565, 579, 593, 607];
bandLabels.forEach((s, i) => gfx.push({type:'text', x:91, y:tPos[i], silent:true,
  style:{text:'{i|T}' + s.slice(1), fontSize:10.5, fontFamily:FONT, fill:'#222', textAlign:'left', textVerticalAlign:'middle',
  rich:{i:{fontStyle:'italic', fontSize:10.5, fontFamily:FONT, fill:'#222'}}}}));
line(100, 550, 96.5, 558, '#999', 0.8);
line(75.5, 579, 89.5, 579, '#999', 0.8);
line(57.5, 593, 89.5, 593, '#999', 0.8);
line(52, 615.5, 89.5, 607, '#999', 0.8);

const legBase = {icon:'rect', itemWidth:10, itemHeight:1.6, padding:0, selectedMode:false,
  textStyle:{fontSize:11, color:'#222', fontFamily:FONT}};
const chart = echarts.init(document.getElementById('c'), null, {renderer:'canvas'});
chart.setOption({
  animation:false, backgroundColor:'#fff', textStyle:{fontFamily:FONT},
  grid:grids, xAxis:xAxes, yAxis:yAxes, series, graphic:gfx,
  legend:[
    Object.assign({}, legBase, {data:['SpO₂','StO₂','FTOE'], left:402, top:140, itemGap:6}),
    Object.assign({}, legBase, {data:['HR'], left:57, top:361}),
    Object.assign({}, legBase, {data:['z(HR)','z(FTOE)'], left:398, top:386, itemGap:5, itemWidth:9,
      textStyle:{fontSize:10.5, color:'#222', fontFamily:FONT}}),
    Object.assign({}, legBase, {data:['SpO₂','StO₂'], orient:'vertical', left:106, top:620, itemGap:-2, itemWidth:9,
      textStyle:{fontSize:12, color:'#222', fontFamily:FONT}}),
    Object.assign({}, legBase, {data:['FTOE_psd','HR_psd'], orient:'vertical', left:108, top:727, itemGap:-4, itemWidth:8,
      formatter:n=>n.replace('_psd',''), textStyle:{fontSize:12, color:'#222', fontFamily:FONT}})
  ]
});
</script></body></html>
